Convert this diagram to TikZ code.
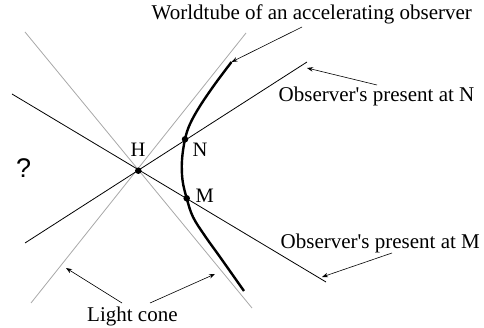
\documentclass[tikz,border=0pt]{standalone}
\usepackage{fontspec}
\setmainfont{Liberation Serif}
\newfontfamily\qfont{Liberation Sans}
\usetikzlibrary{arrows.meta}
\definecolor{conegray}{HTML}{A8A8A8}
\tikzset{
  cone/.style={draw=conegray, line width=0.8pt},
  present/.style={draw=black, line width=0.8pt},
  tube/.style={draw=black, line width=2.4pt},
  dotpt/.style={circle, fill=black, inner sep=0pt, minimum size=6.5pt},
  bigtext/.style={anchor=base west, inner sep=0pt, font=\fontsize{21}{25}\selectfont},
  labeltext/.style={anchor=base west, inner sep=0pt, font=\fontsize{20.5}{24}\selectfont},
  pointer/.style={draw=black, line width=0.6pt, -{Stealth[length=6pt,width=4.5pt]}}
}
\begin{document}
\begin{tikzpicture}[x=1pt,y=-1pt]
\useasboundingbox (0,0) rectangle (484,328);
% light cone
\coordinate (gA1) at (25,32);
\coordinate (gA2) at (252,308);
\coordinate (gB1) at (246,33);
\coordinate (gB2) at (31,303);
\draw[cone] (gA1) -- (gA2);
\draw[cone] (gB1) -- (gB2);
% present lines
\coordinate (pM1) at (12,94);
\coordinate (pM2) at (326,282);
\coordinate (pN1) at (25,243);
\coordinate (pN2) at (307,62);
\draw[present] (pM1) -- (pM2);
\draw[present] (pN1) -- (pN2);
% worldtube
\draw[tube, line cap=butt] plot[smooth, tension=0.6] coordinates {(231.5,62) (215,84) (200,106) (190,124) (185,139.3) (182,160) (182.5,180) (186.7,198.3) (193,217) (205,236) (220,257) (244,291)};
\coordinate (tubetop) at (231.5,62);
% points
\node[dotpt] (H) at (138.3,170.7) {};
\node[dotpt] (N) at (185,139.3) {};
\node[dotpt] (M) at (186.7,198.3) {};
\node[labeltext] (Hl) at (130.3,156.3) {H};
\node[labeltext] (Nl) at (192.3,156.3) {N};
\node[labeltext] (Ml) at (195.3,202.7) {M};
\node[anchor=center, inner sep=0pt, font=\qfont\fontsize{27}{30}\selectfont] (q) at (23.7,168.5) {?};
% texts
\node[bigtext] (tw) at (151.5,20) {Worldtube of an accelerating observer};
\node[bigtext] (tn) at (278.5,101.5) {Observer\textquotesingle s present at N};
\node[bigtext] (tm) at (280.5,248.3) {Observer\textquotesingle s present at M};
\node[bigtext] (tl) at (87,321.5) {Light cone};
% arrows
\coordinate (a1s) at (302,27);
\coordinate (a2s) at (377,85);
\coordinate (a2e) at (307,68);
\coordinate (a3s) at (392,253);
\coordinate (a3e) at (322,277);
\coordinate (a4s) at (122,303);
\coordinate (a4e) at (66,268);
\coordinate (a5s) at (150,303);
\coordinate (a5e) at (215,274);
\draw[pointer] (a1s) -- (tubetop);
\draw[pointer] (a2s) -- (a2e);
\draw[pointer] (a3s) -- (a3e);
\draw[pointer] (a4s) -- (a4e);
\draw[pointer] (a5s) -- (a5e);
\end{tikzpicture}
\end{document}
